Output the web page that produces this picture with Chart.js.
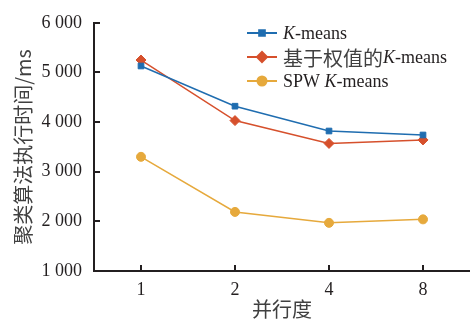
<!DOCTYPE html>
<html>
<head>
<meta charset="utf-8">
<script src="https://cdn.jsdelivr.net/npm/chart.js@4"></script>
<style>
  html, body { margin: 0; padding: 0; background: #fff; }
  #wrap { width: 470px; height: 321px; }
</style>
</head>
<body>
<div id="wrap"><canvas id="c" width="470" height="321"></canvas></div>
<script>
// Degree of parallelism on the x axis
const categories = ['1', '2', '4', '8'];

// Clustering run time (ms)
const kmeans = [5130, 4320, 3820, 3740];
const weightedKmeans = [5250, 4030, 3570, 3640];
const spwKmeans = [3300, 2190, 1970, 2040];

const yTicks = [1000, 2000, 3000, 4000, 5000, 6000];

// Legend labels split into [text, kind] runs: 'i' italic Latin, 'c' CJK, '' plain
const legendKmeans = [['K', 'i'], ['-means', '']];
const legendWeighted = [['基于权值的', 'c'], ['K', 'i'], ['-means', '']];
const legendSpw = [['SPW ', ''], ['K', 'i'], ['-means', '']];

const SERIF = '"Liberation Serif", "Times New Roman", "Noto Sans CJK SC", serif';
const CJK = '"Noto Sans CJK SC", "Liberation Serif", serif';
const AXIS = '#231f20';
const TEXT = '#231f20';
const CJK_TEXT = '#404040';

function fmt(v) {
  return String(v).replace(/\B(?=(\d{3})+(?!\d))/g, ' ');
}

// Inward tick marks and a hand-drawn legend with mixed italic runs
const decorations = {
  id: 'decorations',
  afterDraw(chart) {
    const ctx = chart.ctx;
    const x = chart.scales.x, y = chart.scales.y;
    const area = chart.chartArea;
    ctx.save();
    ctx.strokeStyle = AXIS;
    ctx.lineWidth = 2;
    ctx.beginPath();
    y.ticks.forEach(t => {
      const py = Math.round(y.getPixelForValue(t.value));
      ctx.moveTo(area.left, py);
      ctx.lineTo(area.left + 6, py);
    });
    x.ticks.forEach((t, i) => {
      const px = Math.round(x.getPixelForTick(i));
      ctx.moveTo(px, area.bottom);
      ctx.lineTo(px, area.bottom - 6);
    });
    ctx.stroke();

    const legendRows = [legendKmeans, legendWeighted, legendSpw];
    const lx = 247, ly = 33, gap = 24;
    chart.data.datasets.forEach((ds, i) => {
      const cy = ly + i * gap;
      ctx.strokeStyle = ds.borderColor;
      ctx.lineWidth = 2;
      ctx.beginPath();
      ctx.moveTo(lx, cy);
      ctx.lineTo(lx + 30, cy);
      ctx.stroke();
      ctx.fillStyle = ds.backgroundColor;
      ctx.strokeStyle = ds.borderColor;
      Chart.helpers.drawPoint(ctx, {
        pointStyle: ds.pointStyle,
        radius: ds.pointRadius,
        borderWidth: 1
      }, lx + 15, cy);
      let tx = lx + 36;
      ctx.textBaseline = 'middle';
      ctx.textAlign = 'left';
      legendRows[i].forEach(([txt, kind]) => {
        if (kind === 'c') {
          ctx.font = '20px ' + CJK;
          ctx.fillStyle = CJK_TEXT;
        } else {
          ctx.font = (kind === 'i' ? 'italic ' : '') + '18px ' + SERIF;
          ctx.fillStyle = TEXT;
        }
        ctx.fillText(txt, tx, cy + 1);
        tx += ctx.measureText(txt).width;
      });
    });
    ctx.restore();
  }
};

const common = { borderWidth: 1.5, tension: 0, pointBorderWidth: 1, clip: false };

new Chart(document.getElementById('c'), {
  type: 'line',
  data: {
    labels: categories,
    datasets: [
      Object.assign({ label: 'K-means', data: kmeans, borderColor: '#1f6db0', backgroundColor: '#1f6db0',
        pointStyle: 'rect', pointRadius: 4 }, common),
      Object.assign({ label: '基于权值的K-means', data: weightedKmeans, borderColor: '#d6502c', backgroundColor: '#d6502c',
        pointStyle: 'rectRot', pointRadius: 5 }, common),
      Object.assign({ label: 'SPW K-means', data: spwKmeans, borderColor: '#e6a93c', backgroundColor: '#e6a93c',
        pointStyle: 'circle', pointRadius: 4.5 }, common)
    ]
  },
  options: {
    responsive: false,
    animation: false,
    devicePixelRatio: 1,
    layout: { autoPadding: false, padding: { top: 20, right: 0, left: 0, bottom: 0 } },
    plugins: { legend: { display: false }, tooltip: { enabled: false } },
    scales: {
      x: {
        type: 'category',
        offset: true,
        grid: { display: false, drawTicks: false },
        border: { display: true, color: AXIS, width: 2 },
        ticks: { color: TEXT, font: { family: SERIF, size: 18 }, padding: 8 },
        title: { display: true, text: '并行度', color: CJK_TEXT, font: { family: CJK, size: 20 }, padding: { top: -2, bottom: 0 } },
        afterFit(s) { s.height = 50; }
      },
      y: {
        min: 1000, max: 6000,
        afterBuildTicks(s) { s.ticks = yTicks.map(v => ({ value: v })); },
        grid: { display: false, drawTicks: false },
        border: { display: true, color: AXIS, width: 2 },
        ticks: { color: TEXT, font: { family: SERIF, size: 18 }, padding: 12, callback: v => fmt(v) },
        title: { display: true, text: '聚类算法执行时间/ms', color: CJK_TEXT, font: { family: CJK, size: 20 }, padding: { top: 11, bottom: 0 } },
        afterFit(s) { s.width = 94; }
      }
    }
  },
  plugins: [decorations]
});
</script>
</body>
</html>
